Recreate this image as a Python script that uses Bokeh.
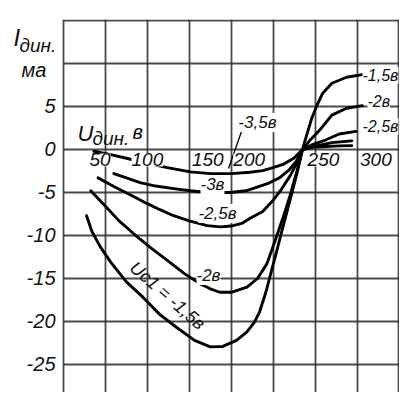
from bokeh.plotting import figure
from bokeh.models import FixedTicker, Range1d, ColumnDataSource
from bokeh.core.properties import value
from bokeh.embed import file_html
from bokeh.resources import INLINE

# ---- data: dynatron characteristics I_дин (mA) vs U_дин (V), parameter Uс1 ----
u_m35 = [49, 65, 81, 100, 119, 141, 160, 180, 198, 210, 220, 230, 240, 248, 258, 270, 283, 295]
i_m35 = [-0.2, -0.6, -1.05, -1.6, -2.1, -2.6, -2.8, -2.8, -2.65, -2.45, -2.1, -1.7, -1.0, 0.0, 0.25, 0.35, 0.42, 0.45]

u_m30 = [68, 80, 93, 108, 125, 141, 157, 179, 194, 204, 216, 226, 235, 242, 248, 260, 276, 295]
i_m30 = [-2.8, -3.3, -3.85, -4.25, -4.55, -4.8, -5.0, -5.0, -4.8, -4.4, -3.9, -3.3, -2.4, -1.4, 0.0, 0.4, 0.8, 1.0]

u_m25 = [53, 68, 84, 100, 112, 125, 140, 157, 170, 180, 190, 198, 210, 220, 228, 236, 242, 248, 258, 270, 283, 299]
i_m25 = [-3.3, -4.3, -5.3, -6.3, -7.0, -7.7, -8.3, -8.85, -9.0, -8.9, -8.6, -8.0, -7.2, -5.9, -4.6, -3.1, -1.7, 0.0, 0.6, 1.1, 1.8, 2.1]

u_m20 = [46, 60, 73, 87, 103, 119, 135, 150, 160, 169, 180, 195, 205, 214, 223, 230, 236, 242, 248, 256, 264, 276, 290, 305]
i_m20 = [-4.8, -6.6, -8.3, -9.8, -11.4, -12.9, -14.4, -15.6, -16.2, -16.6, -16.6, -16.0, -15.0, -13.3, -10.2, -7.7, -5.4, -2.8, 0.0, 1.2, 2.2, 4.0, 4.8, 5.1]

u_m15 = [42, 47, 55, 65, 80, 96, 112, 128, 145, 160, 172, 185, 195, 202, 207, 213, 218, 223, 228, 233, 238, 243, 248, 252, 257, 262, 267, 276, 290, 309]
i_m15 = [-7.7, -9.5, -11.3, -13.1, -15.4, -17.2, -19.2, -20.7, -22.2, -22.95, -22.9, -22.2, -21.2, -20.1, -18.9, -16.6, -14.3, -12.0, -9.6, -7.3, -5.0, -2.6, 0.0, 1.7, 3.7, 5.2, 6.5, 7.7, 8.4, 8.8]

x_ticks = [50, 100, 150, 200, 250, 300]
x_tick_labels = ["50", "100", "150", "200", "250", "300"]
y_ticks = [5, 0, -5, -10, -15, -20, -25]
y_tick_labels = ["5", "0", "-5", "-10", "-15", "-20", "-25"]
grid_x = [20, 60, 100, 140, 180, 220, 260, 300, 340]
grid_y = [15, 10, 5, 0, -5, -10, -15, -20, -25]

curve_label_text = ["-3,5в", "-3в", "-2,5в", "-2в", "-1,5в", "-2в", "-2,5в"]
curve_label_u = [205, 162.1, 166.9, 158.3, 305.2, 310, 305.2]
curve_label_i = [3.14, -4.07, -7.44, -14.65, 8.6, 5.58, 2.67]

param_label = "Uс1 = -1,5в"
param_u, param_i = 119.2, -16.98

# axis names (pieces: main letter, subscript, unit)
name_text = ["I", "дин.", "ма", "U", "дин.", "в"]
name_u = [-27.7, -22.0, -20.1, 33.4, 47.7, 85.8]
name_i = [13.02, 12.09, 9.19, 1.86, 1.28, 1.98]

# ---- styling (kept apart from the data) ----
FONT = "Liberation Sans"
INK = "#111111"
x_tick_align = ["center", "center", "center", "center", "left", "left"]
x_tick_dx = [5, 0, 8, -3, 3, 3]
curve_label_align = ["center", "center", "center", "center", "left", "left", "left"]
curve_label_size = ["17px", "17px", "17px", "17px", "16px", "16px", "16px"]
name_size = ["24px", "19px", "20px", "22px", "19px", "20px"]

p = figure(width=399, height=392, output_backend="svg", toolbar_location=None,
           x_range=Range1d(-40.1, 340.5), y_range=Range1d(-28.256, 15.116),
           min_border_left=0, min_border_right=0, min_border_top=19, min_border_bottom=0)
p.outline_line_color = None
p.background_fill_color = "white"
p.border_fill_color = "white"
p.xaxis.visible = False
p.yaxis.visible = False
p.ygrid.grid_line_color = None

GRID = dict(line_color="#2b2b2b", line_width=1.8, line_alpha=0.85)
p.xgrid.ticker = FixedTicker(ticks=grid_x)
p.xgrid.grid_line_color = GRID["line_color"]
p.xgrid.grid_line_width = GRID["line_width"]
p.xgrid.grid_line_alpha = GRID["line_alpha"]
# horizontal grid lines only across the grid's own width
p.segment(x0=[grid_x[0]] * len(grid_y), x1=[grid_x[-1]] * len(grid_y), y0=grid_y, y1=grid_y, **GRID)

for u, i in [(u_m35, i_m35), (u_m30, i_m30), (u_m25, i_m25), (u_m20, i_m20), (u_m15, i_m15)]:
    p.line(u, i, line_color="black", line_width=2.9, line_join="round", line_cap="round")

# leader line for the -3,5в label
p.segment(x0=[189.8], y0=[2.09], x1=[177.4], y1=[-2.21], line_color="black", line_width=1.3)

# y tick labels, left of the grid
ys = ColumnDataSource(dict(x=[grid_x[0]] * len(y_ticks), y=y_ticks, t=y_tick_labels))
p.text(x="x", y="y", text="t", source=ys, text_align="right", text_baseline="middle",
       x_offset=-8, text_font=value(FONT), text_font_style="italic",
       text_font_size="20px", text_color=INK)

# x tick labels along the zero line, inside the grid
xs = ColumnDataSource(dict(x=x_ticks, y=[0] * len(x_ticks), t=x_tick_labels,
                           a=x_tick_align, dx=x_tick_dx))
p.text(x="x", y="y", text="t", source=xs, text_align="a", text_baseline="top",
       x_offset="dx", y_offset=4, text_font=value(FONT), text_font_style="italic",
       text_font_size="19px", text_color=INK,
       background_fill_color="white", background_fill_alpha=1.0)

cs = ColumnDataSource(dict(x=curve_label_u, y=curve_label_i, t=curve_label_text,
                           a=curve_label_align, s=curve_label_size))
p.text(x="x", y="y", text="t", source=cs, text_align="a", text_baseline="middle",
       text_font=value(FONT), text_font_style="italic", text_font_size="s",
       text_color=INK, background_fill_color="white", background_fill_alpha=1.0)

# rotated parameter label
p.text(x=[param_u], y=[param_i], text=[param_label], angle=-0.72, text_align="center",
       text_baseline="middle", text_font=value(FONT), text_font_style="italic",
       text_font_size="18px", text_color=INK)

ns = ColumnDataSource(dict(x=name_u, y=name_i, t=name_text, s=name_size))
p.text(x="x", y="y", text="t", source=ns, text_align="left", text_baseline="alphabetic",
       text_font=value(FONT), text_font_style="italic", text_font_size="s", text_color=INK)

open("out.html", "w").write(file_html(p, INLINE))
